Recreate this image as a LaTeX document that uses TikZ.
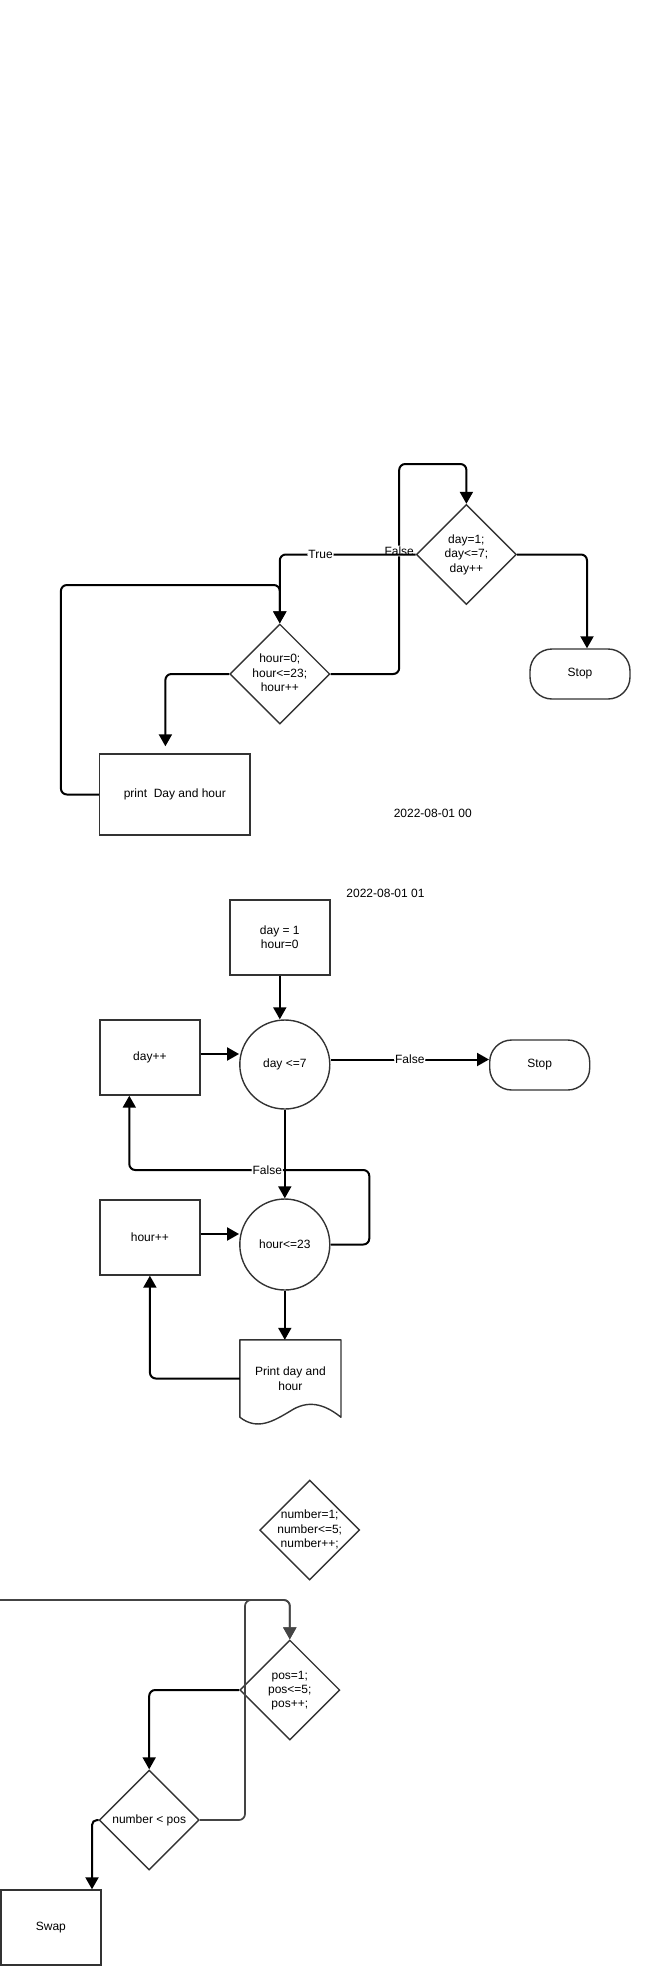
\documentclass[tikz,border=0pt]{standalone}
\usepackage{fontspec}
\setmainfont{Liberation Sans}
\usetikzlibrary{arrows.meta,shapes.geometric,calc}
\definecolor{bord}{HTML}{333333}
\definecolor{gline}{HTML}{444444}
\newcommand{\zt}[1]{\makebox[0pt]{\smash{\raisebox{-3.5pt}{\begin{tabular}[c]{@{}c@{}}#1\end{tabular}}}}}
\begin{document}
\begin{tikzpicture}[x=1pt,y=-1pt,
  font=\fontsize{12}{14.4}\selectfont,
  box/.style={draw=bord, line width=1.4pt, minimum width=100pt, minimum height=75pt, inner sep=2pt, align=center},
  dia/.style={diamond, draw=bord, line width=1.4pt, minimum width=100pt, minimum height=100pt, inner sep=0pt},
  ell/.style={ellipse, draw=bord, line width=1.4pt, minimum width=90pt, minimum height=89pt, inner sep=0pt},
  term/.style={draw=bord, line width=1.4pt, rounded corners=22pt, minimum width=100pt, minimum height=50pt, inner sep=0pt},
  lbl/.style={fill=white, inner sep=1pt},
  conn/.style={line width=2pt, rounded corners=6pt, -{Triangle[length=12pt,width=13pt]}},
  gconn/.style={draw=gline, line width=1.7pt, rounded corners=6pt, -{Triangle[length=12pt,width=13pt]}}]
\useasboundingbox (0,0) rectangle (650,1985);

% ---------- section 1 ----------
\node[dia] (day1) at (466.4,554.5) {\zt{day=1;\\day<=7;\\day++}};
\node[term] (stop1) at (580,674) {Stop};
\node[dia] (hour) at (279.8,674) {\zt{hour=0;\\hour<=23;\\hour++}};
\node[box, minimum width=150.5pt, minimum height=81pt] (print) at (174.8,794.5) {print\ \ Day and hour};
\node (d0) at (432.8,813) {2022-08-01 00};
\coordinate (p1end) at ($(print.north)+(-9.4,-7)$);

\draw[conn] (hour.east) -- (399.2,674) -- node[lbl, pos=0.586]{False} (399.2,464) -| (day1.north);
\draw[conn] (day1.west) -| node[lbl, pos=0.35]{True} (hour.north);
\draw[conn] (day1.east) -| ([xshift=7pt]stop1.north);
\draw[conn] (hour.west) -| (p1end);
\draw[conn] (print.west) -- (60.9,794.5) -- (60.9,585) -| (hour.north);

% ---------- section 2 ----------
\node (d1) at (385.5,893) {2022-08-01 01};
\node[box] (init) at (279.8,937.5) {day = 1\\hour=0};
\node[ell] (dayc) at (284.8,1064.5) {day <=7};
\node[box] (daypp) at (149.9,1057.5) {day++};
\node[term] (stop2) at (539.7,1065) {Stop};
\node[box] (hourpp) at (149.9,1237.5) {hour++};
\node[ell, minimum height=91pt] (hourc) at (284.8,1244.5) {hour<=23};
\node[align=center, minimum width=100.7pt, minimum height=77pt, inner sep=0pt] (doc) at (290.4,1378.5) {Print day and\\hour};
\draw[draw=bord, line width=1.4pt, line join=round]
  (doc.south west) -- (doc.north west) -- (doc.north east) -- (doc.south east)
  .. controls (323.3,1403) and (307.2,1400) .. (290.4,1411)
  .. controls (273.6,1421) and (257.4,1431) .. (doc.south west) -- cycle;

\draw[conn] (init.south) -- (init.south |- dayc.north);
\draw[conn] ([yshift=3.5pt]daypp.east) -- ([yshift=3.5pt]daypp.east -| dayc.west);
\draw[conn] ([yshift=5pt]dayc.east) -- node[lbl]{False} ([yshift=5pt]dayc.east -| stop2.west);
\draw[conn] (dayc.south) -- (hourc.north);
\draw[conn] (hourc.east) -- (369.3,1244.5) -- (369.3,1170) -- node[lbl, pos=0.425]{False} (129.3,1170) -- ([xshift=-20.6pt]daypp.south);
\draw[conn] ([yshift=3.5pt]hourpp.east) -- ([yshift=3.5pt]hourpp.east -| hourc.west);
\draw[conn] (hourc.south) -- (hourc.south |- doc.north);
\draw[conn] (doc.west) -| (hourpp.south);

% ---------- section 3 ----------
\node[dia] (numd) at (309.7,1530) {\zt{number=1;\\number<=5;\\number++;}};
\node[dia] (posd) at (289.8,1690) {\zt{pos=1;\\pos<=5;\\pos++;}};
\node[dia] (ltd) at (149.2,1820) {\zt{number < pos}};
\node[box] (swap) at (50.9,1927.5) {Swap};
\coordinate (offl) at (0,1600);

\draw[gconn] (offl) -| (posd.north);
\draw[gconn] (ltd.east) -- (245,1820) -- (245,1600) -| (posd.north);
\draw[conn] (posd.west) -| (ltd.north);
\draw[conn, rounded corners=5pt] (ltd.west) -| ([xshift=41.1pt]swap.north);
\end{tikzpicture}
\end{document}
